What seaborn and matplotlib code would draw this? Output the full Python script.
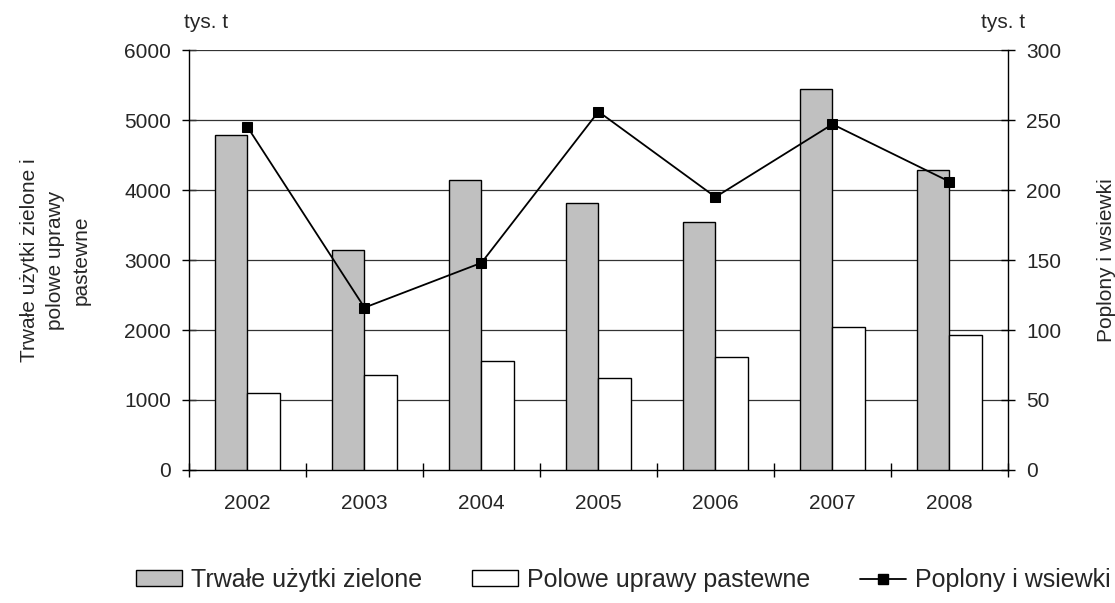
import numpy as np
import pandas as pd
import matplotlib
matplotlib.use('Agg')
import matplotlib.pyplot as plt
import seaborn as sns
from matplotlib.patches import Patch
from matplotlib.lines import Line2D

# dane (tys. t)
lata = ['2002', '2003', '2004', '2005', '2006', '2007', '2008']
trwale_uzytki = [4780, 3150, 4140, 3810, 3540, 5450, 4290]
polowe_uprawy = [1100, 1360, 1560, 1310, 1610, 2040, 1930]
poplony = [245, 116, 148, 256, 195, 247, 206]

seria_1 = 'Trwałe użytki zielone'
seria_2 = 'Polowe uprawy pastewne'
seria_3 = 'Poplony i wsiewki'

df = pd.DataFrame({
    'rok': lata * 2,
    'wartosc': trwale_uzytki + polowe_uprawy,
    'seria': [seria_1] * len(lata) + [seria_2] * len(lata),
})

sns.set_theme(style='white')
plt.rcParams['font.family'] = ['Liberation Sans', 'DejaVu Sans']

FS = 15

fig = plt.figure(figsize=(11.15, 6.03), dpi=100)
ax = fig.add_axes([0.1695, 0.2206, 0.7345, 0.6964])

sns.barplot(data=df, x='rok', y='wartosc', hue='seria', order=lata,
            hue_order=[seria_1, seria_2],
            palette=['#c0c0c0', '#ffffff'], edgecolor='black', linewidth=1.0,
            width=0.56, saturation=1, ax=ax, legend=False, zorder=3)

ax.set_ylim(0, 6000)
ax.set_xlim(-0.5, len(lata) - 0.5)
ax.set_yticks(np.arange(0, 6001, 1000))
for y in np.arange(1000, 6001, 1000):
    ax.axhline(y, color='#333333', linewidth=0.9, zorder=1)

ax.set_xlabel('')
ax.set_ylabel('Trwałe użytki zielone i\npolowe uprawy\npastewne',
              fontsize=FS, labelpad=24, linespacing=1.45)
ax.tick_params(axis='x', which='major', length=0, pad=17, labelsize=FS)
ax.set_xticks(np.arange(-0.5, len(lata)), minor=True)
ax.tick_params(axis='x', which='minor', length=10, width=1, color='black',
               direction='inout', bottom=True)
ax.tick_params(axis='y', length=10, width=1, color='black', direction='inout',
               left=True, labelsize=FS, pad=8)

for side in ['top', 'right']:
    ax.spines[side].set_visible(False)
for side in ['left', 'bottom']:
    ax.spines[side].set_color('black')
    ax.spines[side].set_linewidth(1)

ax2 = ax.twinx()
sns.lineplot(x=np.arange(len(lata)), y=poplony, color='black', marker='s',
             markersize=7.5, markeredgecolor='black', linewidth=1.3, ax=ax2,
             sort=False, zorder=5)
ax2.set_ylim(0, 300)
ax2.set_yticks(np.arange(0, 301, 50))
ax2.set_ylabel('Poplony i wsiewki', fontsize=FS, labelpad=26)
ax2.tick_params(axis='y', length=10, width=1, color='black', direction='inout',
                right=True, labelsize=FS, pad=8)
for side in ['top', 'left', 'bottom']:
    ax2.spines[side].set_visible(False)
ax2.spines['right'].set_color('black')
ax2.spines['right'].set_linewidth(1)
ax2.grid(False)

fig.text(0.165, 0.963, 'tys. t', fontsize=FS, ha='left', va='center')
fig.text(0.880, 0.963, 'tys. t', fontsize=FS, ha='left', va='center')

uchwyty = [
    Patch(facecolor='#c0c0c0', edgecolor='black', linewidth=1),
    Patch(facecolor='white', edgecolor='black', linewidth=1),
    Line2D([0], [0], color='black', marker='s', markersize=7, linewidth=1.3),
]
fig.legend(uchwyty, [seria_1, seria_2, seria_3], loc='center',
           bbox_to_anchor=(0.559, 0.038), ncol=3, frameon=False,
           fontsize=18, columnspacing=2.0, handlelength=1.84,
           handleheight=0.6, handletextpad=0.36)

fig.savefig('out.png', dpi=100)
